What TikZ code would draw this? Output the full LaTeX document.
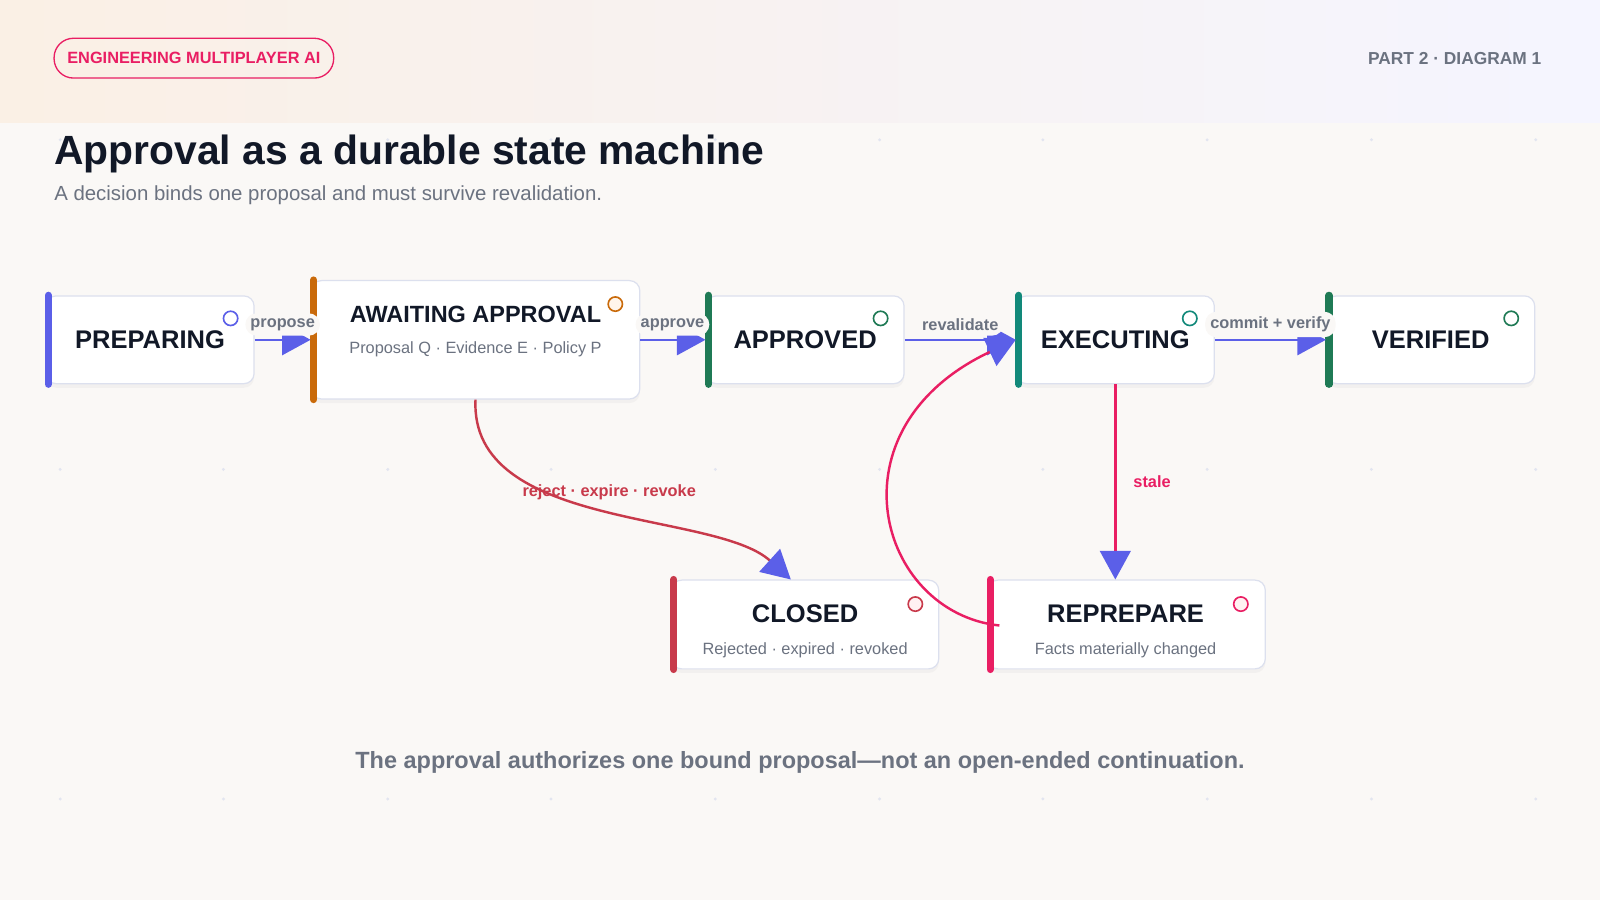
\documentclass[tikz,border=0pt]{standalone}
\usepackage{fontspec}
\setmainfont{Liberation Sans}
\usetikzlibrary{positioning,arrows.meta,shadows}
\definecolor{bgC}{HTML}{FAF8F6}
\definecolor{inkC}{HTML}{111827}
\definecolor{grayC}{HTML}{6B7280}
\definecolor{edgeC}{HTML}{DCE0EE}
\definecolor{indigoC}{HTML}{5B5FE8}
\definecolor{orangeC}{HTML}{C96A0A}
\definecolor{greenC}{HTML}{1F7A55}
\definecolor{tealC}{HTML}{12897A}
\definecolor{crimsonC}{HTML}{C83A4B}
\definecolor{pinkC}{HTML}{E91E63}
\newcommand{\fs}[1]{\fontsize{#1pt}{#1pt}\selectfont}
\tikzstyle{state}=[draw=edgeC, fill=white, rounded corners=10pt, line width=1.2pt, drop shadow={opacity=0.06, shadow xshift=0pt, shadow yshift=-4pt}]
\tikzstyle{bar}=[line width=7pt, line cap=round]
\tikzstyle{dot}=[line width=1.6pt]
\tikzstyle{stname}=[text=inkC, font=\fs{25}\bfseries]
\tikzstyle{sub}=[text=grayC, font=\fs{16}]
\tikzstyle{flow}=[line width=2.4pt, -{Triangle[length=28pt, width=30pt, color=indigoC]}]
\tikzstyle{pill}=[fill=bgC, rounded corners=11pt, text=grayC, font=\fs{16}\bfseries, inner sep=5pt]
\begin{document}
\begin{tikzpicture}[x=1pt, y=-1pt]
\useasboundingbox (0,0) rectangle (1568,882);
\fill[bgC] (0,0) rectangle (1568,882);
\shade[left color=orange!7!bgC, right color=blue!4!white] (0,0) rectangle (1568,120);
% faint grid dots
\foreach \x in {59,219,380,540,701,862,1022,1183,1344,1505}
  \foreach \y in {137,460,783} \fill[edgeC!80!bgC] (\x,\y) circle (1.6pt);

% header
\node[draw=pinkC, line width=1.3pt, rounded corners=19pt, minimum width=274pt, minimum height=39pt, text=pinkC, font=\fs{16}\bfseries] (badge) at (190,57) {ENGINEERING MULTIPLAYER AI};
\node[anchor=east, text=grayC, font=\fs{17}\bfseries] (part) at (1514,57) {PART 2 · DIAGRAM 1};
\node[anchor=west, text=inkC, font=\fs{40}\bfseries, inner sep=0pt] (title) at (53,151) {Approval as a durable state machine};
\node[anchor=west, text=grayC, font=\fs{20}, inner sep=0pt] (subtitle) at (53,191) {A decision binds one proposal and must survive revalidation.};

% states
\node[state, minimum width=204pt, minimum height=86pt] (prep) at (147,333) {};
\node[state, minimum width=322pt, minimum height=116pt] (await) at (466,333) {};
\node[state, minimum width=194pt, minimum height=86pt] (appr) at (789,333) {};
\node[state, minimum width=194pt, minimum height=86pt] (exec) at (1093,333) {};
\node[state, minimum width=204pt, minimum height=86pt] (veri) at (1402,333) {};
\node[state, minimum width=262pt, minimum height=87pt] (closed) at (789,612) {};
\node[state, minimum width=272pt, minimum height=87pt] (reprep) at (1104,612) {};

\draw[bar, indigoC] (prep.north west) ++(3,0) -- ([xshift=3pt]prep.south west);
\draw[bar, orangeC] (await.north west) ++(3,0) -- ([xshift=3pt]await.south west);
\draw[bar, greenC] (appr.north west) ++(3,0) -- ([xshift=3pt]appr.south west);
\draw[bar, tealC] (exec.north west) ++(3,0) -- ([xshift=3pt]exec.south west);
\draw[bar, greenC] (veri.north west) ++(3,0) -- ([xshift=3pt]veri.south west);
\draw[bar, crimsonC] (closed.north west) ++(3,0) -- ([xshift=3pt]closed.south west);
\draw[bar, pinkC] (reprep.north west) ++(3,0) -- ([xshift=3pt]reprep.south west);

\node[stname] (prepT) at (147,333) {PREPARING};
\node[stname, font=\fs{23}\bfseries] (awaitT) at (466,308) {AWAITING APPROVAL};
\node[sub, below=12pt of awaitT] (awaitS) {Proposal Q · Evidence E · Policy P};
\node[stname] (apprT) at (789,333) {APPROVED};
\node[stname] (execT) at (1093,333) {EXECUTING};
\node[stname] (veriT) at (1402,333) {VERIFIED};
\node[stname] (closedT) at (789,601) {CLOSED};
\node[sub, below=13pt of closedT] (closedS) {Rejected · expired · revoked};
\node[stname] (reprepT) at (1103,601) {REPREPARE};
\node[sub, below=13pt of reprepT] (reprepS) {Facts materially changed};

\draw[dot, draw=indigoC, fill=white] (226,312) circle (7pt);
\draw[dot, draw=orangeC, fill=orange!8] (603,298) circle (7pt);
\draw[dot, draw=greenC, fill=white] (863,312) circle (7pt);
\draw[dot, draw=tealC, fill=white] (1166,312) circle (7pt);
\draw[dot, draw=greenC, fill=white] (1481,312) circle (7pt);
\draw[dot, draw=crimsonC, fill=red!5] (897,592) circle (7pt);
\draw[dot, draw=pinkC, fill=pink!20] (1216,592) circle (7pt);

% transitions
\draw[flow, indigoC] (prep.east) -- (await.west);
\draw[flow, indigoC] (await.east) -- (appr.west);
\draw[flow, indigoC] (appr.east) -- (exec.west);
\draw[flow, indigoC] (exec.east) -- (veri.west);
\node[pill] (lProp) at (277,318) {propose};
\node[pill] (lAppr) at (659,318) {approve};
\node[pill] (lReval) at (941,318) {revalidate};
\node[pill] (lCommit) at (1245,318) {commit + verify};

\draw[flow, crimsonC] (await.south) .. controls (460,520) and (700,500) .. ([xshift=-14pt]closed.north);
\node[text=crimsonC, font=\fs{16}\bfseries] (lRej) at (597,482) {reject · expire · revoke};
\draw[flow, pinkC] (exec.south) -- ([xshift=-11pt]reprep.north);
\node[text=pinkC, font=\fs{16}\bfseries] (lStale) at (1129,472) {stale};
\draw[flow, pinkC] ([yshift=-1pt]reprep.west) ++(12,0) .. controls (860,600) and (810,420) .. (exec.west);

\node[text=grayC, font=\fs{23}\bfseries] (foot) at (784,747) {The approval authorizes one bound proposal—not an open-ended continuation.};
\end{tikzpicture}
\end{document}
